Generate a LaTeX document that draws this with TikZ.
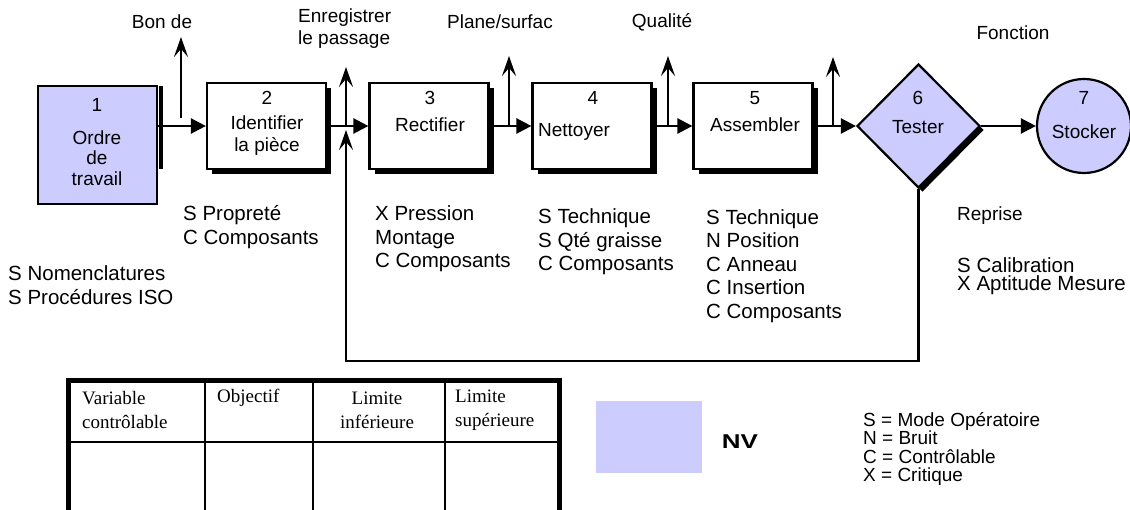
\documentclass[tikz,border=0pt]{standalone}
\usepackage{fontspec}
\setmainfont{Liberation Sans}
\newfontfamily\tablefont{Liberation Serif}
\usetikzlibrary{arrows.meta,shapes.geometric}
\definecolor{nvblue}{RGB}{204,204,255}
\begin{document}
\begin{tikzpicture}[x=1pt,y=-1pt,
  txt/.style={inner sep=0pt, font=\fontsize{19}{22}\selectfont},
  list/.style={inner sep=0pt, anchor=west, align=left, font=\fontsize{20.5}{23.5}\selectfont},
  stepbox/.style={draw, fill=white, line width=2.2pt, inner sep=0pt,
    minimum width=119pt, minimum height=86pt,
    preaction={fill=black, transform canvas={xshift=5pt,yshift=-5pt}}},
  nvbox/.style={draw, fill=nvblue, line width=2.2pt, inner sep=0pt},
  flow/.style={line width=2.4pt, -{Triangle[length=15pt,width=15pt]}},
  outarrow/.style={line width=2.4pt, -{Stealth[length=20pt,width=14pt,inset=8pt]}},
  tabtxt/.style={inner sep=0pt, font=\tablefont\fontsize{19}{24}\selectfont},
  legend/.style={inner sep=0pt, anchor=west, align=left, font=\fontsize{19}{18.2}\selectfont}]
\useasboundingbox (0,0) rectangle (1130,510);
\clip (0,0) rectangle (1130,510);

% process steps
\node[nvbox, minimum width=119pt, minimum height=118pt] (b1) at (97.5,145) {};
\fill[black] ([shift={(1,1)}]b1.north east) rectangle ([shift={(5,84)}]b1.north east);
\node[stepbox] (b2) at (266.5,126) {};
\node[stepbox] (b3) at (429,126) {};
\node[stepbox] (b4) at (592,126) {};
\node[stepbox] (b5) at (753,126) {};
\node[diamond, shape aspect=1, draw, fill=nvblue, line width=2.2pt, inner sep=0pt,
      minimum width=123pt, minimum height=124pt,
      preaction={fill=black, transform canvas={xshift=4pt,yshift=-4pt}}] (d6) at (918.5,126) {};
\node[circle, draw, fill=nvblue, line width=2.2pt, inner sep=0pt, minimum size=94pt] (c7) at (1084,126) {};

% step texts
\node[txt] (n1) at (97,105) {1};
\node[txt, align=center, font=\fontsize{19}{20.7}\selectfont] (t1) at (97,158) {Ordre\\de\\travail};
\node[txt] (n2) at (267,98) {2};
\node[txt, align=center] (t2) at (267,136) {Identifier\\la pièce};
\node[txt] (n3) at (430,98) {3};
\node[txt] (t3) at (430,125) {Rectifier};
\node[txt] (n4) at (593,98) {4};
\node[txt] (t4) at (574,132) {Nettoyer};
\node[txt] (n5) at (755,98) {5};
\node[txt] (t5) at (755,125) {Assembler};
\node[txt] (n6) at (918,98) {6};
\node[txt] (t6) at (918,127) {Tester};
\node[txt] (n7) at (1084,98) {7};
\node[txt] (t7) at (1084,132) {Stocker};

% main flow
\draw[flow] (b1.east |- b2.west) -- (b2.west);
\draw[flow] (b2.east) -- (b3.west);
\draw[flow] (b3.east) -- (b4.west);
\draw[flow] (b4.east) -- (b5.west);
\draw[flow] (b5.east) -- (d6.west);
\draw[flow] (d6.east) -- (c7.west);

% outputs of the steps
\coordinate (o1a) at (181,118);  \coordinate (o1b) at (181,37);
\coordinate (o2a) at (346,126);  \coordinate (o2b) at (346,67);
\coordinate (o3a) at (509,126);  \coordinate (o3b) at (509,56);
\coordinate (o4a) at (668,126);  \coordinate (o4b) at (668,56);
\coordinate (o5a) at (833,126);  \coordinate (o5b) at (833,57);
\draw[outarrow] (o1a) -- (o1b);
\draw[outarrow] (o2a) -- (o2b);
\draw[outarrow] (o3a) -- (o3b);
\draw[outarrow] (o4a) -- (o4b);
\draw[outarrow] (o5a) -- (o5b);

% rework loop
\coordinate (lp) at (346,361);
\coordinate (lt) at (346,130);
\draw[outarrow] (d6.south) |- (lp) -- (lt);

% output labels
\node[txt] (l1) at (162,22) {Bon de};
\node[txt, anchor=west, align=left] (l2) at (298,29) {Enregistrer\\le passage};
\node[txt] (l3) at (500,22) {Plane/surfac};
\node[txt] (l4) at (662,22) {Qualité};
\node[txt] (l6) at (1013,33) {Fonction};

% variables of each step
\node[list] (v2) at (183,227) {S Propreté\\C Composants};
\node[list] (v1) at (8,285) {S Nomenclatures\\S Procédures ISO};
\node[list] (v3) at (375,239) {X Pression\\Montage\\C Composants};
\node[list] (v4) at (538,242) {S Technique\\S Qté graisse\\C Composants};
\node[list] (v5) at (706,266) {S Technique\\N Position\\C Anneau\\C Insertion\\C Composants};
\node[txt, anchor=west] (v6a) at (957,216) {Reprise};
\node[list, font=\fontsize{20.5}{18.5}\selectfont] (v6b) at (957,276) {S Calibration\\X Aptitude Mesure};

% table of controllable variables
\draw[line width=5pt] (68,520) -- (68,381) -- (559,381) -- (559,520);
\draw[line width=1.6pt] (68,442) -- (559,442);
\draw[line width=1.6pt] (205,381) -- (205,520);
\draw[line width=1.6pt] (313,381) -- (313,520);
\draw[line width=1.6pt] (445,381) -- (445,520);
\node[tabtxt, anchor=west, align=left] (h1) at (82,410) {Variable\\contrôlable};
\node[tabtxt, anchor=west] (h2) at (217,398) {Objectif};
\node[tabtxt, align=center] (h3) at (377,410) {Limite\\inférieure};
\node[tabtxt, anchor=west, align=left] (h4) at (455,410) {Limite\\supérieure};

% key
\node[fill=nvblue, inner sep=0pt, minimum width=106pt, minimum height=72pt] (nv) at (649,437) {};
\node[txt, font=\bfseries\fontsize{20}{22}\selectfont] (nvl) at (740,442) {\scalebox{1.3}[1]{NV}};
\node[legend] (key) at (863,449) {S = Mode Opératoire\\N = Bruit\\C = Contrôlable\\X = Critique};
\end{tikzpicture}
\end{document}
